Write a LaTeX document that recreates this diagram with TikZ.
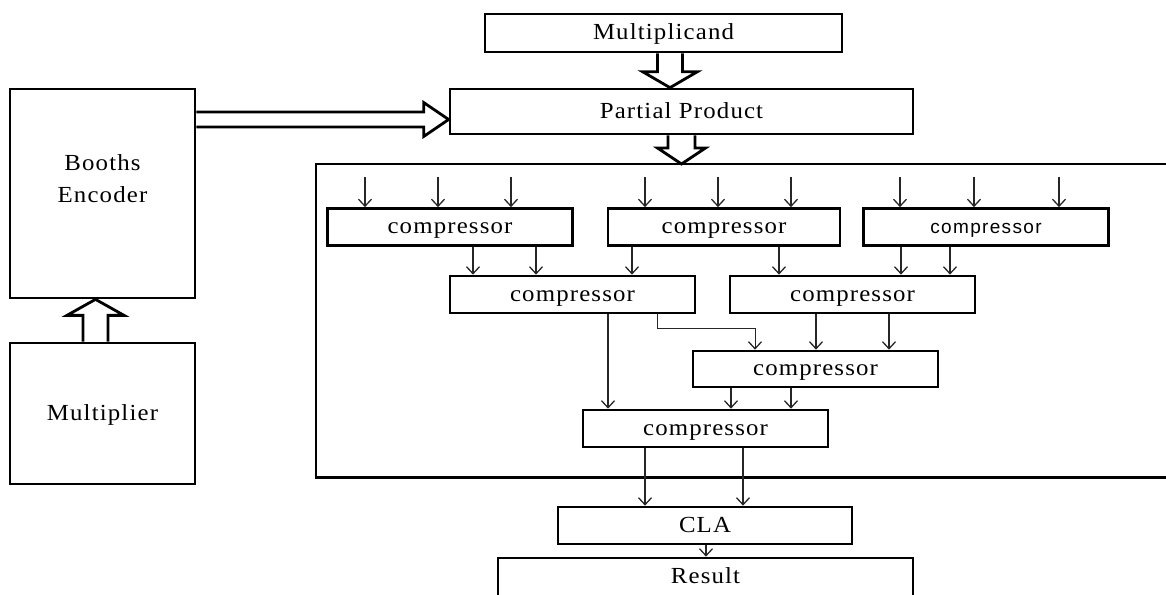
\documentclass[tikz,border=0pt]{standalone}
\usepackage{fontspec}
\setmainfont{Liberation Serif}[LetterSpace=5, FakeStretch=1.08]
\newfontfamily\smallsans{Liberation Sans}[LetterSpace=7]
\usetikzlibrary{arrows.meta,calc}

\newcommand{\blkfont}{\fontsize{23}{32}\selectfont}
% hollow block arrow: start, tip, stem half width, head half width, head length
\newcommand{\fatarrow}[5]{%
  \path #1 coordinate (fatS) #2 coordinate (fatT);
  \path ($(fatT)!#5!(fatS)$) coordinate (fatH);
  \draw[fat] ($(fatS)!#3!90:(fatT)$) -- ($(fatH)!#3!-90:(fatS)$) -- ($(fatH)!#4!-90:(fatS)$) -- (fatT)
    -- ($(fatH)!#4!90:(fatS)$) -- ($(fatH)!#3!90:(fatS)$) -- ($(fatS)!#3!-90:(fatT)$);}

\tikzset{
  blk/.style={draw, line width=2.7pt, fill=white, inner sep=0pt, font=\blkfont,
    text height=16pt, text depth=3pt},
  cmp/.style={blk, minimum width=245pt, minimum height=37pt},
  wire/.style={draw=black!85, line width=1.3pt, -{Straight Barb[length=7pt,width=13pt,line width=1.3pt]}},
  fat/.style={draw, line width=2.8pt, line join=miter},
}

\begin{document}
\begin{tikzpicture}[x=1pt,y=-1pt]
\useasboundingbox (0,0) rectangle (1166,594);
% input side
\node[blk, minimum width=357pt, minimum height=38pt] (mcand) at (663.5,33) {Multiplicand};
\node[blk, minimum width=463pt, minimum height=45pt] (pp) at (681.5,111.5) {Partial Product};
\node[blk, minimum width=185pt, minimum height=209pt,
  label={[yshift=14.5pt, align=center, font=\blkfont]center:Booths\\Encoder}] (booth) at (102.5,193.5) {};
\node[blk, minimum width=185pt, minimum height=141pt] (mult) at (102.5,413.5) {Multiplier};

% compressor tree
\draw[line width=2.6pt] (1170,164) -- (316,164) coordinate (ftop) -- (316,477.5) -- (1170,477.5);
\node[cmp] (cA) at (450,227) {compressor};
\node[cmp, minimum width=232pt] (cB) at (724,227) {compressor};
\node[cmp, font=\smallsans\fontsize{19}{22}\selectfont] (cC) at (986,227) {compressor};
\node[cmp] (cD) at (572.5,294.5) {compressor};
\node[cmp] (cE) at (852.5,294.5) {compressor};
\node[cmp, minimum height=36pt] (cF) at (815.5,369) {compressor};
\node[cmp] (cG) at (705.5,428.5) {compressor};

% output side
\node[blk, minimum width=294pt, minimum height=37pt] (cla) at (705,525.5) {CLA};
\node[blk, minimum width=415pt, minimum height=38pt] (res) at (705.5,577) {Result};

% block arrows
\fatarrow{(670,0 |- mcand.south)}{(670,0 |- pp.north)}{12.5pt}{27.5pt}{16pt}
\fatarrow{(pp.south)}{(pp.south |- ftop)}{13.5pt}{24pt}{16pt}
\fatarrow{(booth.east |- 0,119.5)}{(pp.west |- 0,119.5)}{7.5pt}{17pt}{25pt}
\fatarrow{(95.5,0 |- mult.north)}{(95.5,0 |- booth.south)}{12.5pt}{28.5pt}{16pt}

% partial product bits
\foreach \x in {365,438,511} \draw[wire] (\x,0 |- cA.north) ++(0,-30) -- (\x,0 |- cA.north);
\foreach \x in {645,718,791} \draw[wire] (\x,0 |- cB.north) ++(0,-30) -- (\x,0 |- cB.north);
\foreach \x in {900,974,1059} \draw[wire] (\x,0 |- cC.north) ++(0,-30) -- (\x,0 |- cC.north);

% tree wiring
\foreach \x in {473,536} \draw[wire] (\x,0 |- cA.south) -- (\x,0 |- cD.north);
\draw[wire] (632,0 |- cB.south) -- (632,0 |- cD.north);
\draw[wire] (779,0 |- cB.south) -- (779,0 |- cE.north);
\foreach \x in {901,950} \draw[wire] (\x,0 |- cC.south) -- (\x,0 |- cE.north);
\draw[wire, line width=.8pt] (657,0 |- cD.south) -- ++(0,14) -| (755,0 |- cF.north);
\foreach \x in {816,889} \draw[wire] (\x,0 |- cE.south) -- (\x,0 |- cF.north);
\draw[wire] (608,0 |- cD.south) -- (608,0 |- cG.north);
\foreach \x in {731,791} \draw[wire] (\x,0 |- cF.south) -- (\x,0 |- cG.north);
\foreach \x in {645,743} \draw[wire] (\x,0 |- cG.south) -- (\x,0 |- cla.north);
\draw[wire] (706,0 |- cla.south) -- (706,0 |- res.north);
\end{tikzpicture}
\end{document}
